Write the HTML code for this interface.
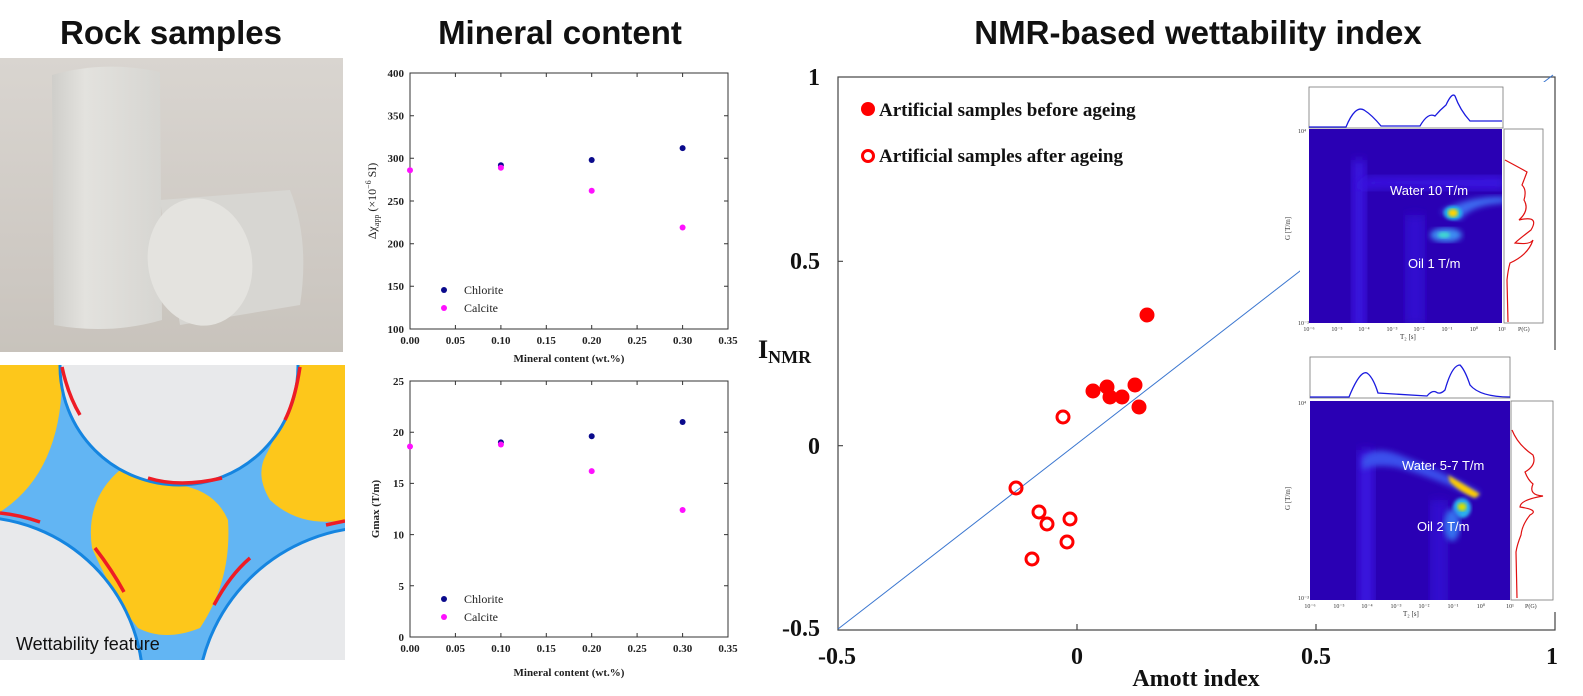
<!DOCTYPE html>
<html><head><meta charset="utf-8"><style>
html,body{margin:0;padding:0;background:#fff;width:1583px;height:696px;overflow:hidden;}
svg{display:block;}
.t{font-family:"Liberation Sans",sans-serif;}
.s{font-family:"Liberation Serif",serif;font-weight:bold;}
</style></head><body>
<svg width="1583" height="696" viewBox="0 0 1583 696" xmlns="http://www.w3.org/2000/svg">
<defs>
<linearGradient id="bg" x1="0" y1="0" x2="0" y2="1"><stop offset="0" stop-color="#d9d5d0"/><stop offset="0.75" stop-color="#cdc8c2"/><stop offset="1" stop-color="#c8c3bc"/></linearGradient>
<linearGradient id="cyl" x1="0" y1="0" x2="1" y2="0"><stop offset="0" stop-color="#cfceca"/><stop offset="0.3" stop-color="#e3e2de"/><stop offset="1" stop-color="#d6d5d1"/></linearGradient>
<filter id="b3"><feGaussianBlur stdDeviation="3"/></filter>
<filter id="b5"><feGaussianBlur stdDeviation="5"/></filter>
<filter id="b2"><feGaussianBlur stdDeviation="1.6"/></filter>
<clipPath id="c1"><rect x="1309" y="129" width="193" height="194"/></clipPath>
<clipPath id="c2"><rect x="1310" y="401" width="200" height="199"/></clipPath>
<clipPath id="cp"><rect x="0" y="365" width="345" height="295"/></clipPath>
</defs>
<rect width="1583" height="696" fill="#fff"/>
<!-- Titles -->
<text class="t" x="171" y="44" font-size="33" font-weight="bold" text-anchor="middle" fill="#111">Rock samples</text>
<text class="t" x="560" y="44" font-size="33" font-weight="bold" text-anchor="middle" fill="#111">Mineral content</text>
<text class="t" x="1198" y="44" font-size="33" font-weight="bold" text-anchor="middle" fill="#111">NMR-based wettability index</text>

<!-- Rock photo -->
<rect x="0" y="58" width="343" height="294" fill="url(#bg)"/>
<path d="M52 75 Q105 60 160 72 L162 320 Q110 335 54 325 Z" fill="url(#cyl)"/>
<path d="M160 200 L290 190 Q310 240 300 305 L180 325 Z" fill="#d7d6d2"/>
<ellipse cx="200" cy="262" rx="52" ry="64" fill="#e4e3df" transform="rotate(-10 200 262)"/>

<!-- Pore image -->
<g clip-path="url(#cp)">
<rect x="0" y="365" width="345" height="295" fill="#62b5f3"/>
<path d="M0 365 L62 365 Q65 470 0 512 Z" fill="#fdc71b"/>
<path d="M298 365 L345 365 L345 520 Q300 528 270 500 Q255 475 266 455 Q285 420 298 365 Z" fill="#fdc71b"/>
<path d="M120 470 Q85 500 92 548 Q115 600 138 628 Q165 642 200 628 Q232 580 228 520 Q215 490 178 485 Z" fill="#fdc71b"/>
<circle cx="179" cy="366" r="119" fill="#e8e9eb" stroke="#1585e0" stroke-width="3"/>
<circle cx="-25" cy="685" r="168" fill="#e8e9eb" stroke="#1585e0" stroke-width="3"/>
<circle cx="375" cy="705" r="178" fill="#e8e9eb" stroke="#1585e0" stroke-width="3"/>
<path d="M62 367 Q68 395 80 415" stroke="#ee1c25" stroke-width="3.5" fill="none"/>
<path d="M148 478 Q180 488 222 478" stroke="#ee1c25" stroke-width="3.5" fill="none"/>
<path d="M300 367 Q295 400 285 420" stroke="#ee1c25" stroke-width="3.5" fill="none"/>
<path d="M0 513 Q20 515 40 522" stroke="#ee1c25" stroke-width="3.5" fill="none"/>
<path d="M95 548 Q112 570 124 592" stroke="#ee1c25" stroke-width="3.5" fill="none"/>
<path d="M250 558 Q230 575 214 605" stroke="#ee1c25" stroke-width="3.5" fill="none"/>
<path d="M326 525 Q335 523 345 521" stroke="#ee1c25" stroke-width="3.5" fill="none"/>
</g>
<rect x="0" y="360" width="345" height="5" fill="#fff"/>
<text class="t" x="16" y="650" font-size="18" fill="#111">Wettability feature</text>

<!-- Mineral charts -->
<g stroke="#333" stroke-width="1" fill="none">
<rect x="410" y="73" width="318" height="256"/>
<path d="M410 286.3h4M410 243.7h4M410 201h4M410 158.3h4M410 115.7h4M728 286.3h-4M728 243.7h-4M728 201h-4M728 158.3h-4M728 115.7h-4M455.4 329v-4M500.9 329v-4M546.3 329v-4M591.7 329v-4M637.1 329v-4M682.6 329v-4M455.4 73v4M500.9 73v4M546.3 73v4M591.7 73v4M637.1 73v4M682.6 73v4"/>
<rect x="410" y="381" width="318" height="256"/>
<path d="M410 585.8h4M410 534.6h4M410 483.4h4M410 432.2h4M728 585.8h-4M728 534.6h-4M728 483.4h-4M728 432.2h-4M455.4 637v-4M500.9 637v-4M546.3 637v-4M591.7 637v-4M637.1 637v-4M682.6 637v-4M455.4 381v4M500.9 381v4M546.3 381v4M591.7 381v4M637.1 381v4M682.6 381v4"/>
</g>
<g class="s" font-size="11" fill="#222" text-anchor="end">
<text x="404" y="333">100</text><text x="404" y="290">150</text><text x="404" y="247.5">200</text><text x="404" y="205">250</text><text x="404" y="162">300</text><text x="404" y="119.5">350</text><text x="404" y="77">400</text>
<text x="404" y="641">0</text><text x="404" y="590">5</text><text x="404" y="538.5">10</text><text x="404" y="487">15</text><text x="404" y="436">20</text><text x="404" y="385">25</text>
</g>
<g class="s" font-size="11" fill="#222" text-anchor="middle">
<text x="410" y="344">0.00</text><text x="455.4" y="344">0.05</text><text x="500.9" y="344">0.10</text><text x="546.3" y="344">0.15</text><text x="591.7" y="344">0.20</text><text x="637.1" y="344">0.25</text><text x="682.6" y="344">0.30</text><text x="728" y="344">0.35</text>
<text x="410" y="652">0.00</text><text x="455.4" y="652">0.05</text><text x="500.9" y="652">0.10</text><text x="546.3" y="652">0.15</text><text x="591.7" y="652">0.20</text><text x="637.1" y="652">0.25</text><text x="682.6" y="652">0.30</text><text x="728" y="652">0.35</text>
<text x="569" y="362">Mineral content (wt.%)</text>
<text x="569" y="676">Mineral content (wt.%)</text>
</g>
<text font-family="Liberation Serif,serif" font-size="12" fill="#222" transform="translate(376 201) rotate(-90)" text-anchor="middle">Δχ<tspan font-size="8" dy="3">app</tspan><tspan dy="-3"> (×10</tspan><tspan font-size="8" dy="-5">−6</tspan><tspan dy="5"> SI)</tspan></text>
<text class="s" font-size="11" fill="#222" transform="translate(379 509) rotate(-90)" text-anchor="middle">Gmax (T/m)</text>
<g fill="#0a0a8c">
<circle cx="500.9" cy="165.2" r="3"/><circle cx="591.7" cy="160" r="3"/><circle cx="682.6" cy="148.1" r="3"/>
<circle cx="500.9" cy="442.4" r="3"/><circle cx="591.7" cy="436.3" r="3"/><circle cx="682.6" cy="422" r="3"/>
<circle cx="444" cy="290" r="3"/><circle cx="444" cy="599" r="3"/>
</g>
<g fill="#ff10ff">
<circle cx="410" cy="170.3" r="3"/><circle cx="500.9" cy="167.7" r="3"/><circle cx="591.7" cy="190.8" r="3"/><circle cx="682.6" cy="227.5" r="3"/>
<circle cx="410" cy="446.5" r="3"/><circle cx="500.9" cy="444.5" r="3"/><circle cx="591.7" cy="471.1" r="3"/><circle cx="682.6" cy="510" r="3"/>
<circle cx="444" cy="308" r="3"/><circle cx="444" cy="617" r="3"/>
</g>
<g font-family="Liberation Serif,serif" font-size="12" fill="#222">
<text x="464" y="294">Chlorite</text><text x="464" y="312">Calcite</text>
<text x="464" y="603">Chlorite</text><text x="464" y="621">Calcite</text>
</g>

<!-- Main chart -->
<g stroke="#444" stroke-width="1.2" fill="none">
<rect x="838" y="77" width="717" height="553"/>
<path d="M838 261.3h5M838 445.7h5M1077 630v-6M1316 630v-6"/>
</g>
<line x1="838" y1="629" x2="1553" y2="75" stroke="#3a76d0" stroke-width="1"/>
<g class="s" font-size="24" fill="#111">
<text x="820" y="85" text-anchor="end">1</text>
<text x="820" y="269" text-anchor="end">0.5</text>
<text x="820" y="454" text-anchor="end">0</text>
<text x="820" y="636" text-anchor="end">-0.5</text>
<text x="837" y="664" text-anchor="middle">-0.5</text>
<text x="1077" y="664" text-anchor="middle">0</text>
<text x="1316" y="664" text-anchor="middle">0.5</text>
<text x="1552" y="664" text-anchor="middle">1</text>
<text x="1196" y="686" text-anchor="middle" font-size="24">Amott index</text>
<text x="758" y="358" font-size="26">I<tspan font-size="18" dy="5">NMR</tspan></text>
</g>
<g class="s" font-size="19" fill="#111">
<text x="879" y="116">Artificial samples before ageing</text>
<text x="879" y="162">Artificial samples after ageing</text>
</g>
<circle cx="868" cy="109" r="7" fill="#ff0000"/>
<circle cx="868" cy="156" r="5.5" fill="none" stroke="#ff0000" stroke-width="3"/>
<g fill="#ff0000">
<circle cx="1147" cy="315" r="7.5"/><circle cx="1093" cy="391" r="7.5"/><circle cx="1107" cy="387" r="7.5"/><circle cx="1110" cy="397" r="7.5"/><circle cx="1122" cy="397" r="7.5"/><circle cx="1135" cy="385" r="7.5"/><circle cx="1139" cy="407" r="7.5"/>
</g>
<g fill="none" stroke="#ff0000" stroke-width="3">
<circle cx="1063" cy="417" r="6"/><circle cx="1016" cy="488" r="6"/><circle cx="1039" cy="512" r="6"/><circle cx="1047" cy="524" r="6"/><circle cx="1070" cy="519" r="6"/><circle cx="1067" cy="542" r="6"/><circle cx="1032" cy="559" r="6"/>
</g>

<!-- Inset 1 -->
<rect x="1300" y="82" width="250" height="260" fill="#fff"/>
<rect x="1309" y="87" width="194" height="41" fill="#fff" stroke="#777" stroke-width="0.8"/>
<path d="M1309 127 L1346 127 Q1355 105 1364 110 Q1372 115 1381 126 L1420 126 Q1428 112 1435 116 Q1440 110 1446 105 Q1452 92 1455 96 Q1460 110 1470 121 L1502 121" fill="none" stroke="#1a1adf" stroke-width="1.3"/>
<g clip-path="url(#c1)">
<rect x="1309" y="129" width="193" height="194" fill="#2a00b4"/>
<rect x="1352" y="160" width="14" height="170" fill="#3a18e0" filter="url(#b5)"/>
<rect x="1405" y="215" width="20" height="110" fill="#3210d0" filter="url(#b5)"/>
<path d="M1357 190 Q1360 175 1380 177 L1505 176 L1505 190 L1380 188 Z" fill="#3a18e4" filter="url(#b5)"/>
<path d="M1440 212 Q1470 195 1505 197 L1505 203 Q1470 205 1460 220 Z" fill="#3c6af0" filter="url(#b3)"/>
<ellipse cx="1446" cy="235" rx="16" ry="7" fill="#3d8ff2" filter="url(#b3)"/>
<ellipse cx="1444" cy="235" rx="6" ry="3" fill="#40d8d0" filter="url(#b2)"/>
<ellipse cx="1453" cy="213" rx="9" ry="7" fill="#23b8e8" filter="url(#b2)"/>
<ellipse cx="1453" cy="213" rx="5" ry="4" fill="#ffd400" filter="url(#b2)"/>
</g>
<text class="t" x="1390" y="195" font-size="13" fill="#fff">Water 10 T/m</text>
<text class="t" x="1408" y="268" font-size="13" fill="#fff">Oil 1 T/m</text>
<rect x="1504" y="129" width="39" height="194" fill="#fff" stroke="#777" stroke-width="0.8"/>
<path d="M1505 160 Q1520 168 1527 172 Q1524 180 1522 185 Q1527 190 1524 200 Q1530 210 1519 220 Q1540 215 1531 230 Q1518 240 1515 243 Q1530 245 1533 240 Q1528 255 1510 263 Q1508 270 1507 280 L1508 322" fill="none" stroke="#e01010" stroke-width="1.2"/>
<g font-family="Liberation Serif,serif" font-size="6" fill="#333">
<text x="1298" y="133">10⁴</text><text x="1298" y="325">10⁻³</text>
<text x="1309" y="331" text-anchor="middle">10⁻⁶</text><text x="1337" y="331" text-anchor="middle">10⁻⁵</text><text x="1364" y="331" text-anchor="middle">10⁻⁴</text><text x="1392" y="331" text-anchor="middle">10⁻³</text><text x="1419" y="331" text-anchor="middle">10⁻²</text><text x="1447" y="331" text-anchor="middle">10⁻¹</text><text x="1474" y="331" text-anchor="middle">10⁰</text><text x="1502" y="331" text-anchor="middle">10¹</text>
<text x="1400" y="339" font-size="7">T₂ [s]</text><text x="1518" y="331">P(G)</text>
<text transform="translate(1290 240) rotate(-90)" font-size="7">G [T/m]</text>
</g>

<!-- Inset 2 -->
<rect x="1300" y="350" width="260" height="262" fill="#fff"/>
<rect x="1310" y="357" width="200" height="41" fill="#fff" stroke="#777" stroke-width="0.8"/>
<path d="M1310 397 L1349 397 Q1360 370 1367 373 Q1373 377 1378 393 L1427 396 Q1432 390 1436 392 Q1440 395 1445 390 Q1452 365 1460 365 Q1465 370 1470 385 Q1480 397 1510 397" fill="none" stroke="#1a1adf" stroke-width="1.3"/>
<g clip-path="url(#c2)">
<rect x="1310" y="401" width="200" height="199" fill="#2a00b4"/>
<rect x="1358" y="450" width="16" height="160" fill="#3a18e0" filter="url(#b5)"/>
<rect x="1430" y="500" width="18" height="110" fill="#3210d0" filter="url(#b5)"/>
<path d="M1362 458 Q1375 445 1400 455 Q1440 470 1480 492 L1476 498 Q1440 480 1400 468 Q1375 463 1362 470 Z" fill="#3a50ec" filter="url(#b3)"/>
<path d="M1448 475 Q1465 485 1480 494 L1475 498 Q1460 492 1450 482 Z" fill="#ffcc00" filter="url(#b2)"/>
<ellipse cx="1462" cy="508" rx="9" ry="10" fill="#2ab0ee" filter="url(#b2)"/>
<ellipse cx="1462" cy="507" rx="4.5" ry="4" fill="#d8e000" filter="url(#b2)"/>
<ellipse cx="1452" cy="525" rx="8" ry="16" fill="#3570ee" filter="url(#b3)"/>
</g>
<text class="t" x="1402" y="470" font-size="13" fill="#fff">Water 5-7 T/m</text>
<text class="t" x="1417" y="531" font-size="13" fill="#fff">Oil 2 T/m</text>
<rect x="1511" y="401" width="42" height="199" fill="#fff" stroke="#777" stroke-width="0.8"/>
<path d="M1512 430 Q1518 445 1533 455 Q1537 465 1525 472 Q1528 480 1533 484 Q1528 495 1543 496 Q1520 500 1520 507 Q1540 510 1530 515 Q1522 525 1521 535 Q1517 545 1516 552 L1517 598" fill="none" stroke="#e01010" stroke-width="1.2"/>
<g font-family="Liberation Serif,serif" font-size="6" fill="#333">
<text x="1298" y="405">10⁴</text><text x="1298" y="600">10⁻³</text>
<text x="1310" y="608" text-anchor="middle">10⁻⁶</text><text x="1339" y="608" text-anchor="middle">10⁻⁵</text><text x="1367" y="608" text-anchor="middle">10⁻⁴</text><text x="1396" y="608" text-anchor="middle">10⁻³</text><text x="1424" y="608" text-anchor="middle">10⁻²</text><text x="1453" y="608" text-anchor="middle">10⁻¹</text><text x="1481" y="608" text-anchor="middle">10⁰</text><text x="1510" y="608" text-anchor="middle">10¹</text>
<text x="1403" y="616" font-size="7">T₂ [s]</text><text x="1525" y="608">P(G)</text>
<text transform="translate(1290 510) rotate(-90)" font-size="7">G [T/m]</text>
</g>
</svg>
</body></html>
